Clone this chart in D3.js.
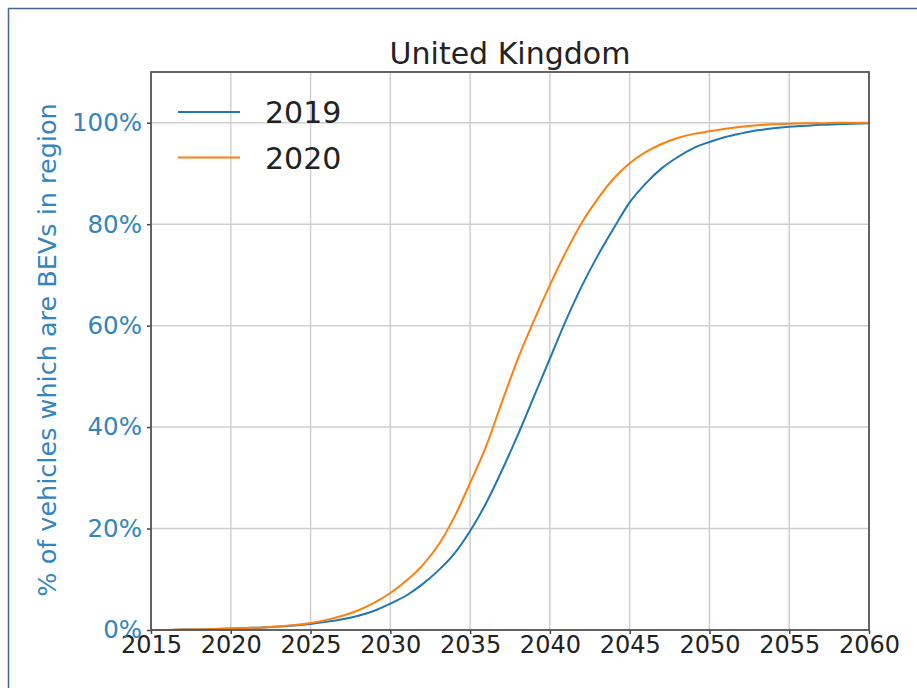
<!DOCTYPE html>
<html>
<head>
<meta charset="utf-8">
<script src="https://cdn.jsdelivr.net/npm/d3@7"></script>
<style>
  body { margin: 0; background: #fff; }
  svg { display: block; font-family: 'DejaVu Sans', sans-serif; }
</style>
</head>
<body>
<svg id="chart" width="917" height="688"></svg>
<script>
const years = d3.range(2015, 2061)

// share of vehicles which are BEVs, one value per year 2015..2060
const series2019 = [
  0.000, 0.000, 0.001, 0.001, 0.002, 0.003, 0.004, 0.005, 0.007, 0.009,
  0.012, 0.016, 0.021, 0.028, 0.038, 0.052, 0.068, 0.090, 0.117, 0.150,
  0.195, 0.250, 0.315, 0.385, 0.460, 0.535, 0.610, 0.678, 0.738, 0.792,
  0.843, 0.880, 0.910, 0.932, 0.950, 0.962, 0.972, 0.979, 0.985, 0.989,
  0.992, 0.994, 0.996, 0.997, 0.998, 0.999,
]
const series2020 = [
  0.000, 0.000, 0.001, 0.001, 0.002, 0.003, 0.004, 0.005, 0.007, 0.010,
  0.014, 0.020, 0.028, 0.039, 0.054, 0.073, 0.097, 0.127, 0.167, 0.222,
  0.290, 0.362, 0.450, 0.535, 0.610, 0.680, 0.745, 0.803, 0.850, 0.890,
  0.920, 0.942, 0.958, 0.970, 0.978, 0.983, 0.988, 0.992, 0.995, 0.997,
  0.998, 0.999, 0.999, 1.000, 1.000, 1.000,
]
const seriesNames = ['2019', '2020']
const seriesColors = ['#1f77b4', '#ff7f0e']
const xTicks = [2015, 2020, 2025, 2030, 2035, 2040, 2045, 2050, 2055, 2060]
const yTicks = [0, 0.2, 0.4, 0.6, 0.8, 1.0]

const plot = { left: 151, right: 869, top: 72, bottom: 630 }
const svg = d3.select('#chart')

// outer frame
svg.append('rect')
  .attr('x', 8.5).attr('y', 8.5)
  .attr('width', 930).attr('height', 700)
  .attr('fill', 'none')
  .attr('stroke', '#4a6490')
  .attr('stroke-width', 1.5)

const x = d3.scaleLinear().domain([2015, 2060]).range([plot.left, plot.right])
const y = d3.scaleLinear().domain([0, 1.1]).range([plot.bottom, plot.top])

// grid
svg.append('g')
  .selectAll('line')
  .data(xTicks)
  .join('line')
  .attr('x1', (d) => x(d)).attr('x2', (d) => x(d))
  .attr('y1', plot.top).attr('y2', plot.bottom)
  .attr('stroke', '#cfcfcf')
  .attr('stroke-width', 1.5)

svg.append('g')
  .selectAll('line')
  .data(yTicks)
  .join('line')
  .attr('x1', plot.left).attr('x2', plot.right)
  .attr('y1', (d) => y(d)).attr('y2', (d) => y(d))
  .attr('stroke', '#cfcfcf')
  .attr('stroke-width', 1.5)

// lines
const line = d3.line()
  .x((d, i) => x(years[i]))
  .y((d) => y(d))
  .curve(d3.curveMonotoneX)

;[series2019, series2020].forEach((s, i) => {
  svg.append('path')
    .datum(s)
    .attr('d', line)
    .attr('fill', 'none')
    .attr('stroke', seriesColors[i])
    .attr('stroke-width', 2)
})

// axes
const xAxis = svg.append('g')
  .attr('transform', `translate(0, ${plot.bottom})`)
  .call(d3.axisBottom(x).tickValues(xTicks).tickFormat(d3.format('d')).tickSize(4).tickPadding(2))
xAxis.select('.domain').remove()
xAxis.selectAll('line').attr('stroke', '#444').attr('stroke-width', 1.5)
xAxis.selectAll('text')
  .attr('font-family', 'DejaVu Sans')
  .attr('font-size', 24)
  .attr('fill', '#222')

const yAxis = svg.append('g')
  .attr('transform', `translate(${plot.left}, 0)`)
  .call(d3.axisLeft(y).tickValues(yTicks).tickFormat(d3.format('.0%')).tickSize(4).tickPadding(5))
yAxis.select('.domain').remove()
yAxis.selectAll('line').attr('stroke', '#444').attr('stroke-width', 1.5)
yAxis.selectAll('text')
  .attr('font-family', 'DejaVu Sans')
  .attr('font-size', 24.5)
  .attr('fill', '#3484bf')

// spines
svg.append('rect')
  .attr('x', plot.left).attr('y', plot.top)
  .attr('width', plot.right - plot.left)
  .attr('height', plot.bottom - plot.top)
  .attr('fill', 'none')
  .attr('stroke', '#555')
  .attr('stroke-width', 1.8)

// title
svg.append('text')
  .attr('x', (plot.left + plot.right) / 2)
  .attr('y', 64)
  .attr('text-anchor', 'middle')
  .attr('font-size', 30)
  .attr('fill', '#222')
  .text('United Kingdom')

// y label
svg.append('text')
  .attr('text-anchor', 'middle')
  .attr('transform', `translate(56, 350) rotate(-90)`)
  .attr('font-size', 25.5)
  .attr('fill', '#3484bf')
  .text('% of vehicles which are BEVs in region')

// legend
const legend = svg.append('g')
seriesNames.forEach((name, i) => {
  const ly = 112 + i * 45.5
  legend.append('line')
    .attr('x1', 178).attr('x2', 240)
    .attr('y1', ly).attr('y2', ly)
    .attr('stroke', seriesColors[i])
    .attr('stroke-width', 2)
  legend.append('text')
    .attr('x', 265)
    .attr('y', ly + 11)
    .attr('font-size', 30)
    .attr('fill', '#222')
    .text(name)
})
</script>
</body>
</html>
